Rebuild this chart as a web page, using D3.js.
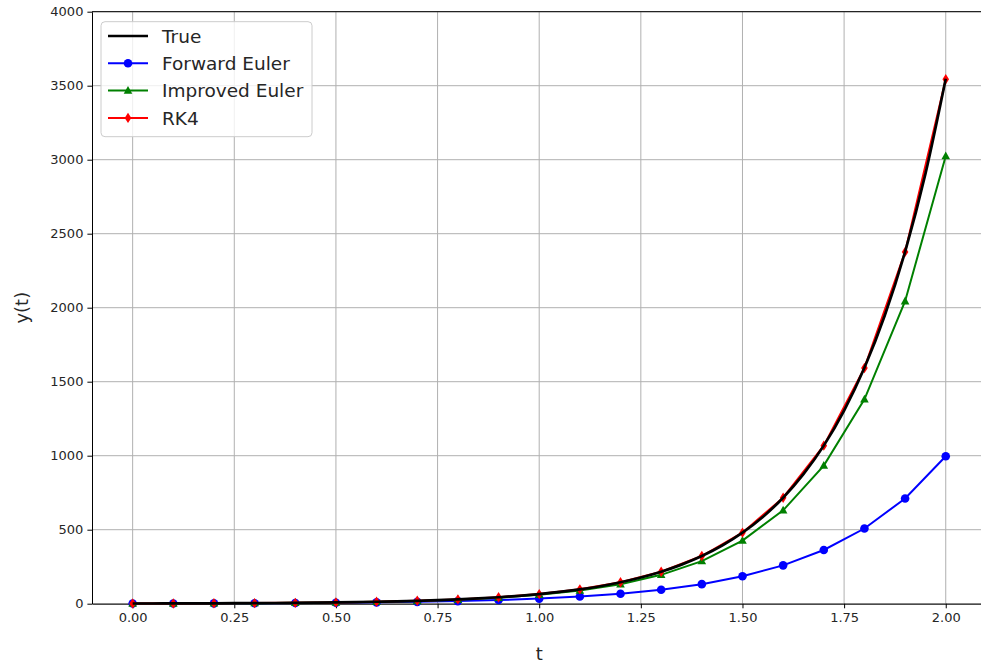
<!DOCTYPE html>
<html>
<head>
<meta charset="utf-8">
<script src="https://cdn.jsdelivr.net/npm/d3@7"></script>
<style>
  body { margin: 0; background: #fff; }
  svg text { font-family: "DejaVu Sans", sans-serif; fill: #262626; }
</style>
</head>
<body>
<div id="chart"></div>
<script>
// data
var tSteps = [0.0, 0.1, 0.2, 0.3, 0.4, 0.5, 0.6, 0.7, 0.8, 0.9, 1.0,
              1.1, 1.2, 1.3, 1.4, 1.5, 1.6, 1.7, 1.8, 1.9, 2.0];
var forwardEuler = [1.19, 1.67, 2.33, 3.27, 4.57, 6.40, 8.96, 12.5, 17.6, 24.6, 34.4,
                    48.2, 67.5, 94.5, 132, 185, 259, 363, 508, 711, 996];
var improvedEuler = [1.19, 1.76, 2.61, 3.86, 5.71, 8.45, 12.5, 18.5, 27.4, 40.5, 60.0,
                     88.8, 131, 195, 288, 426, 631, 933, 1381, 2044, 3025];
var rk4 = [1.19, 1.78, 2.65, 3.95, 5.89, 8.79, 13.1, 19.6, 29.2, 43.5, 65.0,
           96.9, 145, 216, 322, 480, 716, 1068, 1593, 2377, 3544];
var tTrue = [0.0, 0.05, 0.1, 0.15, 0.2, 0.25, 0.3, 0.35, 0.4, 0.45, 0.5, 0.55, 0.6, 0.65, 0.7,
             0.75, 0.8, 0.85, 0.9, 0.95, 1.0, 1.05, 1.1, 1.15, 1.2, 1.25, 1.3, 1.35, 1.4,
             1.45, 1.5, 1.55, 1.6, 1.65, 1.7, 1.75, 1.8, 1.85, 1.9, 1.95, 2.0];
var yTrue = [1.19, 1.45, 1.78, 2.17, 2.65, 3.24, 3.95, 4.83, 5.89, 7.20, 8.79, 10.7, 13.1,
             16.0, 19.6, 23.9, 29.2, 35.7, 43.6, 53.2, 65.0, 79.4, 96.9, 118, 145, 177,
             216, 264, 322, 393, 480, 586, 716, 875, 1068, 1305, 1594, 1947, 2378, 2904, 3547];
var xTicks = [0, 0.25, 0.5, 0.75, 1.0, 1.25, 1.5, 1.75, 2.0];
var yTicks = [0, 500, 1000, 1500, 2000, 2500, 3000, 3500, 4000];

// settings
var W = 981, H = 663;
var pLeft = 92, pRight = 986.4, pTop = 11.7, pBottom = 603.7;

var svg = d3.select("#chart").append("svg")
    .attr("width", W).attr("height", H);

var x = d3.scaleLinear().domain([-0.1, 2.1]).range([pLeft, pRight]);
var y = d3.scaleLinear().domain([0, 4000]).range([pBottom, pTop]);

// grid
svg.append("g").selectAll("line").data(xTicks).enter().append("line")
    .attr("x1", d => x(d)).attr("x2", d => x(d))
    .attr("y1", pTop).attr("y2", pBottom)
    .attr("stroke", "#b0b0b0").attr("stroke-width", 1);
svg.append("g").selectAll("line").data(yTicks).enter().append("line")
    .attr("x1", pLeft).attr("x2", pRight)
    .attr("y1", d => y(d)).attr("y2", d => y(d))
    .attr("stroke", "#b0b0b0").attr("stroke-width", 1);

// axes
var xAxis = svg.append("g")
    .attr("transform", "translate(0," + pBottom + ")")
    .call(d3.axisBottom(x).tickValues(xTicks).tickFormat(d3.format(".2f"))
          .tickSizeInner(4.6).tickSizeOuter(0).tickPadding(4));
var yAxis = svg.append("g")
    .attr("transform", "translate(" + pLeft + ",0)")
    .call(d3.axisLeft(y).tickValues(yTicks).tickFormat(d3.format("d"))
          .tickSizeInner(4.6).tickSizeOuter(0).tickPadding(4));
[xAxis, yAxis].forEach(function(a) {
  a.attr("font-size", null).attr("font-family", null);
  a.select(".domain").attr("stroke", "#000").attr("stroke-width", 1);
  a.selectAll(".tick line").attr("stroke", "#000").attr("stroke-width", 1);
  a.selectAll(".tick text").style("font-size", "13px").attr("fill", "#262626");
});
// top spine
svg.append("line").attr("x1", pLeft).attr("x2", pRight)
    .attr("y1", pTop).attr("y2", pTop).attr("stroke", "#000").attr("stroke-width", 1);

// markers
function markerPath(kind) {
  if (kind === "circle") return d3.symbol().type(d3.symbolCircle).size(Math.PI * 4.3 * 4.3)();
  if (kind === "triangle") return "M0,-4.6L4.3,3.2L-4.3,3.2Z";
  return "M0,-5.2L3.3,0L0,5.2L-3.3,0Z";
}

var series = [
  {name: "Forward Euler", vals: forwardEuler, color: "#0000ff", marker: "circle"},
  {name: "Improved Euler", vals: improvedEuler, color: "#008000", marker: "triangle"},
  {name: "RK4", vals: rk4, color: "#ff0000", marker: "diamond"}
];

var line = d3.line().x(d => x(d[0])).y(d => y(d[1]));

series.forEach(function(s) {
  var pts = tSteps.map((t, i) => [t, s.vals[i]]);
  svg.append("path").datum(pts)
    .attr("d", line).attr("fill", "none")
    .attr("stroke", s.color).attr("stroke-width", 2);
  svg.append("g").selectAll("path").data(pts).enter().append("path")
    .attr("d", markerPath(s.marker))
    .attr("transform", d => "translate(" + x(d[0]) + "," + y(d[1]) + ")")
    .attr("fill", s.color);
});

// true solution on top
svg.append("path").datum(tTrue.map((t, i) => [t, yTrue[i]]))
    .attr("d", d3.line().x(d => x(d[0])).y(d => y(d[1])).curve(d3.curveMonotoneX))
    .attr("fill", "none").attr("stroke", "#000").attr("stroke-width", 2.7);

// axis labels
svg.append("text").attr("x", x(1.0)).attr("y", 660)
    .attr("text-anchor", "middle").attr("font-size", 18).text("t");
svg.append("text")
    .attr("transform", "translate(28," + ((pTop + pBottom) / 2) + ") rotate(-90)")
    .attr("text-anchor", "middle").attr("font-size", 18).text("y(t)");

// legend
var lg = svg.append("g");
lg.append("rect").attr("x", 101).attr("y", 21.7).attr("width", 211).attr("height", 115)
    .attr("rx", 4).attr("fill", "#fff").attr("fill-opacity", 0.8)
    .attr("stroke", "#cccccc").attr("stroke-width", 1);
var items = [{name: "True", color: "#000", marker: null, w: 2.7}].concat(
  series.map(s => ({name: s.name, color: s.color, marker: s.marker, w: 2})));
items.forEach(function(it, i) {
  var cy = 36 + i * 27.3;
  lg.append("line").attr("x1", 108).attr("x2", 148).attr("y1", cy).attr("y2", cy)
    .attr("stroke", it.color).attr("stroke-width", it.w);
  if (it.marker) {
    lg.append("path").attr("d", markerPath(it.marker))
      .attr("transform", "translate(128," + cy + ")").attr("fill", it.color);
  }
  lg.append("text").attr("x", 162).attr("y", cy).attr("dy", "0.36em")
    .attr("font-size", 18.5).text(it.name);
});
</script>
</body>
</html>
